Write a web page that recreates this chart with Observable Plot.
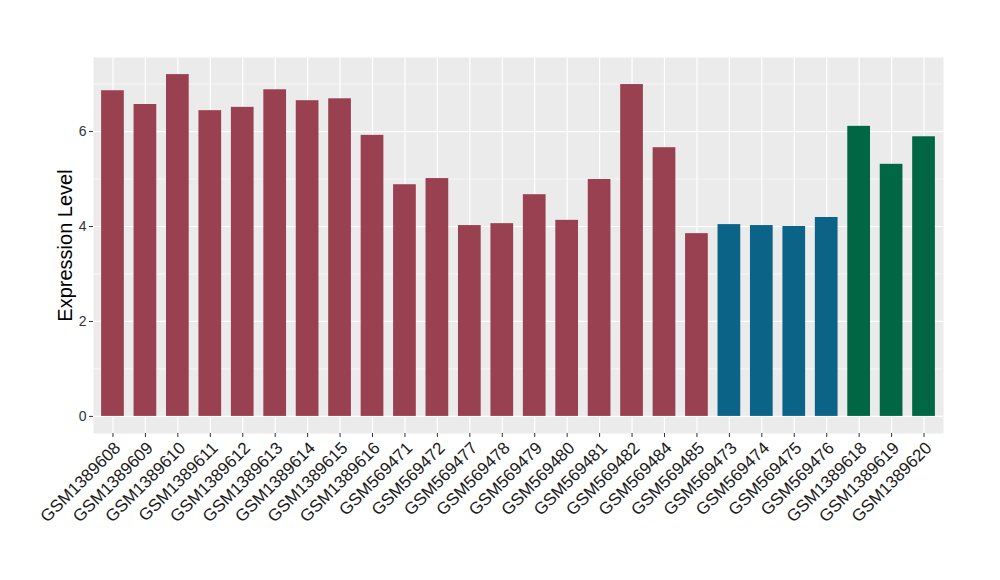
<!DOCTYPE html>
<html>
<head>
<meta charset="utf-8">
<script src="https://cdn.jsdelivr.net/npm/d3@7"></script>
<script src="https://cdn.jsdelivr.net/npm/@observablehq/plot@0.6"></script>
<style>
  html, body { margin: 0; padding: 0; background: white; }
</style>
</head>
<body>
<div id="chart"></div>
<script>
const samples = [
  "GSM1389608","GSM1389609","GSM1389610","GSM1389611","GSM1389612","GSM1389613",
  "GSM1389614","GSM1389615","GSM1389616","GSM569471","GSM569472","GSM569477",
  "GSM569478","GSM569479","GSM569480","GSM569481","GSM569482","GSM569484",
  "GSM569485","GSM569473","GSM569474","GSM569475","GSM569476","GSM1389618",
  "GSM1389619","GSM1389620"
];
const values = [
  6.86, 6.57, 7.20, 6.44, 6.51, 6.88, 6.65, 6.69, 5.92, 4.88, 5.01, 4.02,
  4.06, 4.67, 4.13, 4.99, 6.99, 5.66, 3.85, 4.04, 4.02, 4.00, 4.19, 6.11,
  5.31, 5.89
];
const groups = [
  "g1","g1","g1","g1","g1","g1","g1","g1","g1","g1","g1","g1","g1","g1","g1","g1","g1","g1","g1",
  "g2","g2","g2","g2",
  "g3","g3","g3"
];
const groupNames = ["g1","g2","g3"];
const groupColors = ["#994150","#0B6487","#006644"];
const yMajorTicks = [0, 2, 4, 6];
const yMinorTicks = [1, 3, 5, 7];

const data = samples.map((s, i) => ({sample: s, value: values[i], group: groups[i]}));

const chart = Plot.plot({
  width: 1000,
  height: 580,
  marginLeft: 93,
  marginRight: 57,
  marginTop: 57,
  marginBottom: 147,
  style: {fontFamily: "'Liberation Sans', Arial, sans-serif", background: "white", color: "#4D4D4D"},
  x: {type: "band", domain: samples, paddingInner: 0.3, paddingOuter: 0.25, round: false, label: null},
  y: {domain: [-0.36, 7.56], label: null},
  color: {domain: groupNames, range: groupColors},
  marks: [
    Plot.frame({fill: "#EBEBEB", stroke: null}),
    Plot.gridY(yMinorTicks, {stroke: "white", strokeOpacity: 1, strokeWidth: 0.6}),
    Plot.gridY(yMajorTicks, {stroke: "white", strokeOpacity: 1, strokeWidth: 1.2}),
    Plot.gridX({stroke: "white", strokeOpacity: 1, strokeWidth: 1.2}),
    Plot.barY(data, {x: "sample", y: "value", fill: "group"}),
    Plot.axisY({
      ticks: yMajorTicks, tickSize: 4, tickPadding: 3, fontSize: 14, stroke: "#333", fill: "#333",
      label: "Expression Level", labelAnchor: "center", labelArrow: "none", labelOffset: 36
    }),
    Plot.axisX({
      tickRotate: -45, textAnchor: "end", lineAnchor: "top",
      tickSize: 4, tickPadding: 3, fontSize: 17, stroke: "#333", fill: "#1a1a1a", label: null
    })
  ]
});

document.getElementById("chart").appendChild(chart);
chart.querySelectorAll("g[aria-label='y-axis label'] text").forEach(t => {
  t.setAttribute("font-size", "20");
  t.style.fontSize = "20px";
  t.setAttribute("fill", "#000");
});
</script>
</body>
</html>
